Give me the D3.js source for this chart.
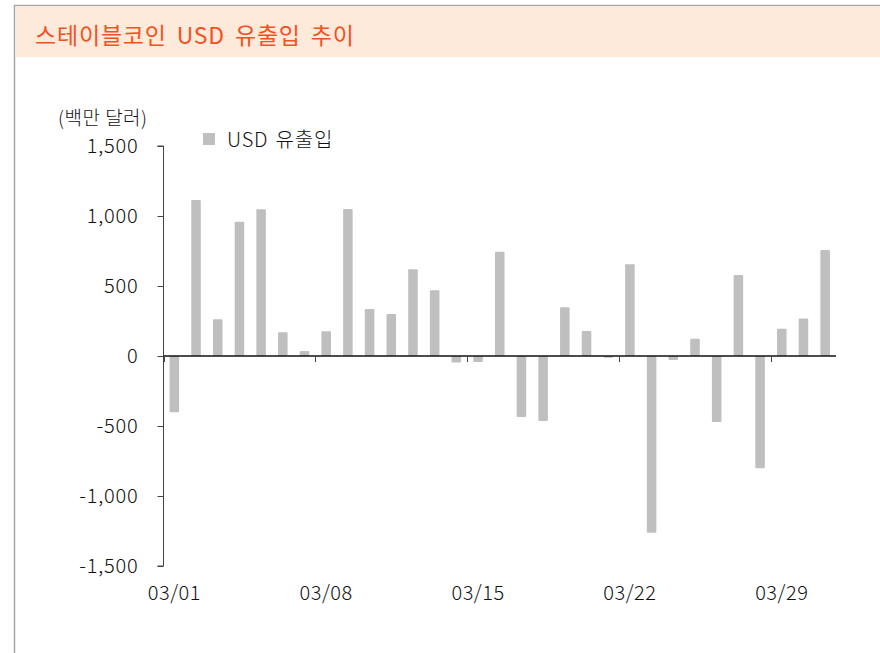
<!DOCTYPE html>
<html>
<head>
<meta charset="utf-8">
<script src="https://cdn.jsdelivr.net/npm/d3@7"></script>
<style>
  body { margin: 0; background: #fff; }
  svg { display: block; font-family: "Noto Sans CJK KR", "Noto Sans", sans-serif; font-weight: 300; }
</style>
</head>
<body>
<div id="chart"></div>
<script>
// daily USD net flow of stablecoins, March (millions of dollars)
const days = d3.range(1, 32).map(d => `03/${String(d).padStart(2, '0')}`)
const flows = [
    -402, 1114, 262, 959, 1048, 169, 36, 176, 1050, 336,
    300, 619, 469, -47, -42, 745, -436, -464, 348, 179,
    -12, 655, -1262, -28, 124, -471, 579, -802, 195, 267,
    757
]
const yTicks = [-1500, -1000, -500, 0, 500, 1000, 1500]
const xLabels = ['03/01', '03/08', '03/15', '03/22', '03/29']

const title = '스테이블코인 USD 유출입 추이'
const unitLabel = '(백만 달러)'
const seriesName = 'USD 유출입'

const W = 880, H = 653
const fontFamily = '"Noto Sans CJK KR", "Noto Sans", sans-serif'

const svg = d3.select('#chart').append('svg')
    .attr('width', W)
    .attr('height', H)

// frame + header band
svg.append('rect')
    .attr('x', 14.5).attr('y', 5.5)
    .attr('width', W).attr('height', H)
    .attr('fill', '#fff')
    .attr('stroke', '#a6a6a6')
    .attr('stroke-width', 1.5)

svg.append('rect')
    .attr('x', 15.5).attr('y', 6.5)
    .attr('width', W).attr('height', 50.5)
    .attr('fill', '#fdeadb')

svg.append('text')
    .attr('x', 35).attr('y', 44)
    .attr('fill', '#f4511e')
    .style('font-size', '23px')
    .style('font-weight', 400)
    .style('letter-spacing', '0.8px')
    .style('word-spacing', '4px')
    .text(title)

const x = d3.scaleBand()
    .domain(days)
    .range([163.5, 836])
    .paddingInner(0.56)
    .paddingOuter(0.28)

const y = d3.scaleLinear()
    .domain([-1500, 1500])
    .range([566, 146])

const fmt = d => d3.format(',')(d).replace('−', '-')

// y axis
const yAxis = svg.append('g')
    .attr('transform', 'translate(163.5,0)')
    .call(d3.axisLeft(y)
        .tickValues(yTicks)
        .tickSize(6)
        .tickPadding(19)
        .tickFormat(fmt))
    .attr('font-family', fontFamily)

yAxis.select('.domain').attr('stroke', '#444').attr('d', `M-6,${y(1500)}H0V${y(-1500)}H-6`)
yAxis.selectAll('.tick line').attr('stroke', '#444')
yAxis.selectAll('.tick text')
    .style('font-size', '20px')
    .style('letter-spacing', '0.8px')
    .attr('fill', '#111')

// bars
svg.append('g')
    .selectAll('rect')
    .data(flows)
    .enter().append('rect')
        .attr('x', (d, i) => x(days[i]))
        .attr('y', d => y(Math.max(0, d)))
        .attr('width', x.bandwidth())
        .attr('height', d => Math.abs(y(d) - y(0)))
        .attr('rx', 1)
        .attr('fill', '#bfbfbf')

// x axis: line at zero, ticks at the left edge of each week
const step = x.step()
const x0 = 163.5
svg.append('line')
    .attr('x1', x0).attr('x2', 836)
    .attr('y1', y(0)).attr('y2', y(0))
    .attr('stroke', '#111')
    .attr('stroke-width', 1.3)

svg.append('g')
    .selectAll('line')
    .data(xLabels)
    .enter().append('line')
        .attr('x1', d => Math.round(x(d) - x.paddingOuter() * step) + 0.5)
        .attr('x2', d => Math.round(x(d) - x.paddingOuter() * step) + 0.5)
        .attr('y1', y(0))
        .attr('y2', y(0) + 6)
        .attr('stroke', '#444')

svg.append('g')
    .selectAll('text')
    .data(xLabels)
    .enter().append('text')
        .attr('x', d => x(d) + x.bandwidth() / 2)
        .attr('y', 600)
        .attr('text-anchor', 'middle')
        .attr('fill', '#111')
        .style('font-size', '20px')
        .style('letter-spacing', '0.5px')
        .text(d => d)

// unit label
svg.append('text')
    .attr('x', 58).attr('y', 125)
    .attr('fill', '#111')
    .style('font-size', '19px')
    .style('letter-spacing', '0.5px')
    .text(unitLabel)

// legend
svg.append('rect')
    .attr('x', 203).attr('y', 133)
    .attr('width', 12).attr('height', 12)
    .attr('fill', '#bfbfbf')

svg.append('text')
    .attr('x', 227).attr('y', 147)
    .attr('fill', '#111')
    .style('font-size', '20px')
    .style('letter-spacing', '0.8px')
    .style('word-spacing', '2px')
    .text(seriesName)
</script>
</body>
</html>
